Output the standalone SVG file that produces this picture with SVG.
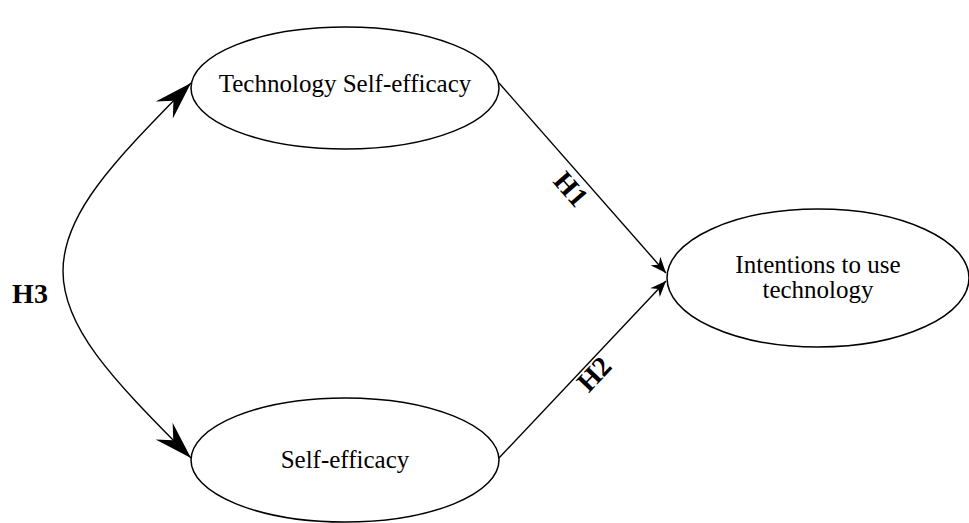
<svg xmlns="http://www.w3.org/2000/svg" width="969" height="523" viewBox="0 0 969 523">
<style>
.node ellipse{fill:#fff;stroke:#000;stroke-width:1.5}
.lbl{font-family:"Liberation Serif","Times New Roman",serif;font-size:25px;fill:#000;text-anchor:middle}
.h{font-family:"Liberation Serif","Times New Roman",serif;font-size:28px;font-weight:bold;fill:#000;text-anchor:middle}
.conn path{fill:none;stroke:#000;stroke-width:1.4}
</style>
<defs>
<marker id="big" markerUnits="userSpaceOnUse" viewBox="-40 -14 42 28" refX="0" refY="0" markerWidth="42" markerHeight="28" orient="auto-start-reverse" overflow="visible">
<path d="M0,0 L-38,-12 L-25,0 L-38,12 Z" fill="#000"/>
</marker>
<marker id="small" markerUnits="userSpaceOnUse" viewBox="-17 -8 19 16" refX="0" refY="0" markerWidth="19" markerHeight="16" orient="auto" overflow="visible">
<path d="M0,0 L-16,-6.5 L-11,0 L-16,6.5 Z" fill="#000"/>
</marker>
</defs>
<rect width="969" height="523" fill="#fff"/>
<g id="connectors" class="conn">
<path d="M191,83 C110,165 63,215 63,271 C63,327 110,377 191,458" marker-start="url(#big)" marker-end="url(#big)"/>
<path d="M499,83 L666,273" marker-end="url(#small)"/>
<path d="M499,458 L666,281" marker-end="url(#small)"/>
</g>
<g id="node-tse" class="node">
<ellipse cx="345" cy="88" rx="154" ry="61"/>
<text class="lbl" x="345" y="92">Technology Self-efficacy</text>
</g>
<g id="node-se" class="node">
<ellipse cx="345" cy="460" rx="154" ry="62"/>
<text class="lbl" x="345" y="468">Self-efficacy</text>
</g>
<g id="node-itu" class="node">
<ellipse cx="818" cy="278" rx="151" ry="69"/>
<text class="lbl" x="818" y="273">Intentions to use</text>
<text class="lbl" x="818" y="298">technology</text>
</g>
<g id="labels">
<text class="h" x="30" y="303">H3</text>
<text class="h" transform="translate(571,189) rotate(49)" x="0" y="9.5">H1</text>
<text class="h" transform="translate(594,374) rotate(-46.7)" x="0" y="9.5">H2</text>
</g>
</svg>
